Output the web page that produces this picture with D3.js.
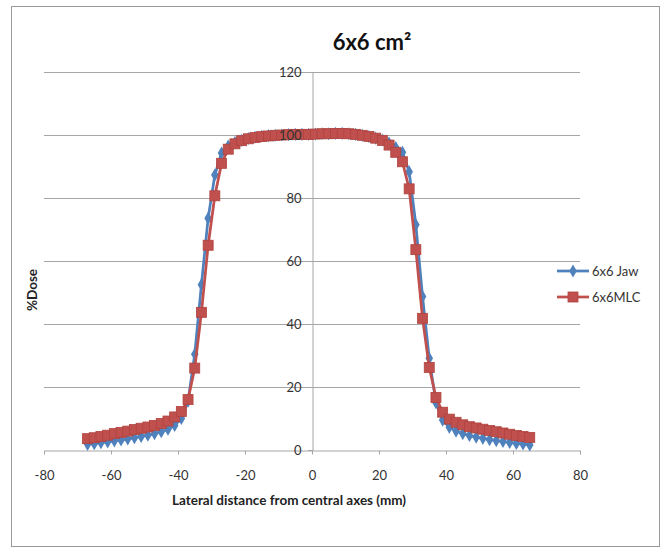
<!DOCTYPE html>
<html><head><meta charset="utf-8">
<script src="https://cdn.jsdelivr.net/npm/d3@7"></script>
<style>body{margin:0;background:#fff;} text{font-family:Lato, "Open Sans", sans-serif;}</style>
</head><body>
<svg id="c" width="666" height="552"></svg>
<script>
const xValues = [-67,-65,-63,-61,-59,-57,-55,-53,-51,-49,-47,-45,-43,-41,-39,-37,-35,-33,-31,-29,-27,-25,-23,-21,-19,-17,-15,-13,-11,-9,-7,-5,-3,-1,1,3,5,7,9,11,13,15,17,19,21,23,25,27,29,31,33,35,37,39,41,43,45,47,49,51,53,55,57,59,61,63,65];
const jaw = [1.8,2.0,2.3,2.6,2.9,3.2,3.5,3.9,4.3,4.7,5.2,5.8,6.6,7.8,10,15.5,30.4,52.5,73.6,87.3,94.3,96.5,97.6,98.3,98.9,99.3,99.6,99.8,99.9,100,100.1,100.2,100.2,100.2,100.3,100.4,100.4,100.5,100.5,100.4,100.2,99.9,99.5,99.0,98.4,97.4,96.0,94.5,88.3,71.5,48.7,29.1,15,9.5,7.2,6.0,5.2,4.6,4.1,3.7,3.3,3.0,2.7,2.4,2.1,1.9,1.6];
const mlc = [3.6,3.9,4.3,4.7,5.2,5.6,6.0,6.5,6.9,7.3,7.8,8.4,9.2,10.5,12.2,16,26,43.7,65,80.7,91,95.5,97.2,98.2,98.8,99.2,99.5,99.7,99.9,100,100.1,100.2,100.2,100.2,100.3,100.4,100.4,100.5,100.5,100.4,100.2,99.9,99.5,99.0,98.3,96.8,94.5,91.5,82.9,63.6,41.8,26.2,16.7,12,9.8,8.8,8.0,7.4,7.0,6.6,6.2,5.8,5.4,5.0,4.6,4.3,4.0];
const xTicks = [-80,-60,-40,-20,0,20,40,60,80];
const yTicks = [0,20,40,60,80,100,120];
const seriesNames = ["6x6 Jaw","6x6MLC"];
const colors = ["#4F81BD","#C0504D"];
const title = "6x6 cm²";
const xTitle = "Lateral distance from central axes (mm)";
const yTitle = "%Dose";

const svg = d3.select("#c");
svg.append("rect").attr("x",11.5).attr("y",6.5).attr("width",648).attr("height",540)
  .attr("fill","#fff").attr("stroke","#999").attr("stroke-width",1);

const x = d3.scaleLinear().domain([-80,80]).range([44,580]);
const y = d3.scaleLinear().domain([0,120]).range([450,72]);

// gridlines
svg.append("g").selectAll("line").data(yTicks.filter(d=>d>0)).join("line")
  .attr("x1",x(-80)).attr("x2",x(80)).attr("y1",d=>Math.round(y(d))+0.5).attr("y2",d=>Math.round(y(d))+0.5)
  .attr("stroke","#a6a6a6").attr("stroke-width",1);

// axis lines (under series)
const xAxis = d3.axisBottom(x).tickValues(xTicks).tickSize(4).tickFormat(d3.format("d"));
const gx = svg.append("g").attr("transform",`translate(0,${Math.round(y(0))+0.5})`).call(xAxis);
gx.select(".domain").attr("stroke","#a6a6a6");
gx.selectAll(".tick line").attr("stroke","#a6a6a6");
gx.selectAll(".tick text").attr("dy",null).attr("y",29).attr("font-size",13).attr("fill","#333")
  .style("font-family","Lato, sans-serif").text(d=>d<0?"-"+Math.abs(d):d);

const yAxis = d3.axisLeft(y).tickValues(yTicks).tickSize(4).tickPadding(7).tickFormat(d3.format("d"));
const gy = svg.append("g").attr("transform",`translate(${Math.round(x(0))+0.5},0)`).call(yAxis);
gy.select(".domain").attr("stroke","#a6a6a6");
gy.selectAll(".tick line").attr("stroke","#a6a6a6");
gy.selectAll(".tick text").remove();

const line = d3.line().x((d,i)=>x(xValues[i])).y(d=>y(d));
const diamond = d3.symbol().type(d3.symbolDiamond).size(50);

// Jaw series
svg.append("path").datum(jaw).attr("d",line).attr("fill","none").attr("stroke",colors[0]).attr("stroke-width",2.75);
svg.append("g").selectAll("path").data(jaw).join("path")
  .attr("d",diamond).attr("transform",(d,i)=>`translate(${x(xValues[i])},${y(d)})`).attr("fill",colors[0]);

// MLC series
const ms = 10;
svg.append("path").datum(mlc).attr("d",line).attr("fill","none").attr("stroke",colors[1]).attr("stroke-width",2.75);
svg.append("g").selectAll("rect").data(mlc).join("rect")
  .attr("x",(d,i)=>x(xValues[i])-ms/2).attr("y",d=>y(d)-ms/2).attr("width",ms).attr("height",ms)
  .attr("fill",colors[1]).attr("stroke","#b0433f").attr("stroke-width",0.8);

// y tick labels drawn on top of series
const gyl = svg.append("g").attr("transform",`translate(${Math.round(x(0))+0.5},0)`)
  .call(d3.axisLeft(y).tickValues(yTicks).tickSize(4).tickPadding(7).tickFormat(d3.format("d")));
gyl.select(".domain").remove();
gyl.selectAll(".tick line").remove();
gyl.selectAll(".tick text").attr("font-size",13).attr("fill","#333").style("font-family","Lato, sans-serif");

// titles
svg.append("text").attr("x",372).attr("y",50).attr("text-anchor","middle").attr("font-size",22)
  .attr("font-weight","bold").attr("fill","#111").text(title);
svg.append("text").attr("x",289).attr("y",505).attr("text-anchor","middle").attr("font-size",13.5)
  .attr("font-weight","bold").attr("fill","#222").text(xTitle);
svg.append("text").attr("transform","translate(37,290) rotate(-90)").attr("text-anchor","middle").attr("font-size",13.5)
  .attr("font-weight","bold").attr("fill","#222").text(yTitle);

// legend
const lg = svg.append("g");
seriesNames.forEach((n,i)=>{
  const yy = 271 + i*26;
  lg.append("line").attr("x1",557).attr("x2",589).attr("y1",yy).attr("y2",yy).attr("stroke",colors[i]).attr("stroke-width",2.75);
  if(i===0){
    lg.append("path").attr("d",diamond).attr("transform",`translate(573,${yy})`).attr("fill",colors[0]);
  } else {
    lg.append("rect").attr("x",573-ms/2).attr("y",yy-ms/2).attr("width",ms).attr("height",ms).attr("fill",colors[1]).attr("stroke","#b0433f").attr("stroke-width",0.8);
  }
  lg.append("text").attr("x",592).attr("y",yy+5).attr("font-size",13).attr("fill","#333").text(n);
});
</script>
</body></html>
